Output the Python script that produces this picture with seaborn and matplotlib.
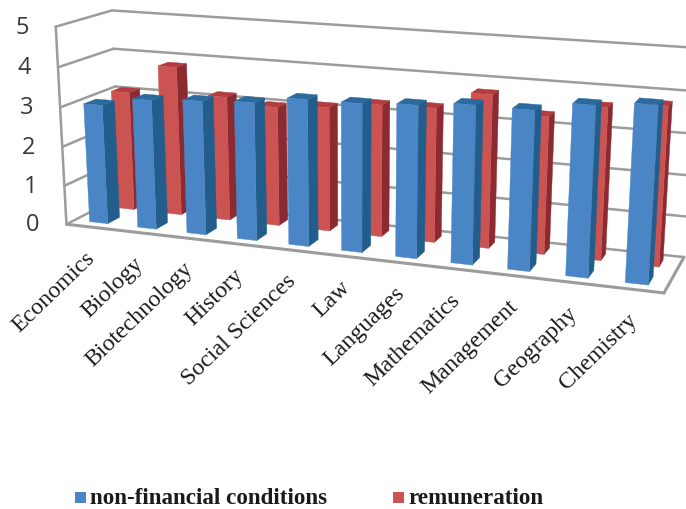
import numpy as np
import matplotlib
matplotlib.use("Agg")
import matplotlib.pyplot as plt
import seaborn as sns

categories = ["Economics", "Biology", "Biotechnology", "History", "Social Sciences", "Law",
              "Languages", "Mathematics", "Management", "Geography", "Chemistry"]
non_financial = [3.04, 3.27, 3.35, 3.42, 3.6, 3.61, 3.68, 3.79, 3.78, 4.0, 4.11]
remuneration = [3.09, 3.84, 3.18, 3.03, 3.13, 3.3, 3.33, 3.76, 3.35, 3.67, 3.81]
value_ticks = [0, 1, 2, 3, 4, 5]

# Camera of the oblique box: unit-box corners (category, depth, value) and where they land in pixels
BOX_CORNERS = [(0, 0, 0), (0, 0, 5), (0, 1, 5), (0, 1, 0), (1, 0, 0), (1, 1, 0), (1, 1, 5)]
PIXEL_CORNERS = [(66.5, 224), (55.7, 28), (112, 11), (120, 199), (664, 295), (684, 257), (697, 49)]


def fit_camera(world, image):
    rows = []
    for (x, y, z), (u, v) in zip(world, image):
        rows.append([x, y, z, 1, 0, 0, 0, 0, -u * x, -u * y, -u * z, -u])
        rows.append([0, 0, 0, 0, x, y, z, 1, -v * x, -v * y, -v * z, -v])
    return np.linalg.svd(np.array(rows, float))[2][-1].reshape(3, 4)


CAMERA = fit_camera(BOX_CORNERS, PIXEL_CORNERS)


def project(x, y, z):
    u, v, w = CAMERA @ np.array([x, y, z, 1.0])
    return u / w, v / w


sns.set_theme(style="white")
fig = plt.figure(figsize=(6.86, 5.10), dpi=100, facecolor="white")
ax = fig.add_axes([0, 0, 1, 1])
ax.set_xlim(0, 686)
ax.set_ylim(510, 0)
ax.axis("off")

GRID = "#9c9c9c"


def edge(p, q, lw=1.8):
    a, b = project(*p), project(*q)
    ax.plot([a[0], b[0]], [a[1], b[1]], color=GRID, lw=lw, solid_capstyle="round", zorder=1)


# Walls and floor
for v in value_ticks:
    edge((0, 0, v), (0, 1, v))
    edge((0, 1, v), (1, 1, v))
edge((0, 0, 0), (0, 0, 5))
edge((0, 0, 0), (1, 0, 0), lw=2.2)
edge((1, 0, 0), (1, 1, 0), lw=2.2)


def bar(x0, x1, y0, y1, h, front, side, top, z):
    faces = [
        ([(x1, y0, 0), (x1, y1, 0), (x1, y1, h), (x1, y0, h)], side),
        ([(x0, y0, h), (x1, y0, h), (x1, y1, h), (x0, y1, h)], top),
        ([(x0, y0, 0), (x1, y0, 0), (x1, y0, h), (x0, y0, h)], front),
    ]
    for corners, colour in faces:
        pts = [project(*c) for c in corners]
        ax.fill(*zip(*pts), color=colour, lw=0.3, zorder=z)


n = len(categories)
BAR_WIDTH = 0.38
BLUE = ("#4a86c5", "#235d8b", "#2a6a9e")
RED = ("#cb5452", "#8c2a31", "#b23c3e")

for i, h in enumerate(remuneration):
    c = (i + 0.5) / n
    bar(c - BAR_WIDTH / n / 2, c + BAR_WIDTH / n / 2, 0.65, 0.85, h, *RED, z=2)
for i, h in enumerate(non_financial):
    c = (i + 0.5) / n
    bar(c - BAR_WIDTH / n / 2, c + BAR_WIDTH / n / 2, 0.15, 0.37, h, *BLUE, z=3)

# Value labels beside the left wall
for v in value_ticks:
    px, py = project(0, 0, v)
    ax.text(px - 27, py, str(v), family="Open Sans", fontsize=17, color="#3a3a3a",
            ha="right", va="center")

# Category labels, slanted and ending under each column
for i, name in enumerate(categories):
    px, py = project((i + 0.5) / n, 0, 0)
    ax.text(px + 1, py + 27, name, family="Liberation Serif", fontsize=17.2, color="#1a1a1a",
            rotation=44, rotation_mode="anchor", ha="right", va="center")

# Legend row
for x, colour, label in [(75, BLUE[0], "non-financial conditions"), (393, RED[0], "remuneration")]:
    ax.fill([x, x + 11, x + 11, x], [493, 493, 504, 504], color=colour, lw=0)
    ax.text(x + 15, 499, label, family="Liberation Serif", fontsize=16.6, weight="bold",
            color="#1a1a1a", ha="left", va="center")

fig.savefig("out.png", dpi=100)
